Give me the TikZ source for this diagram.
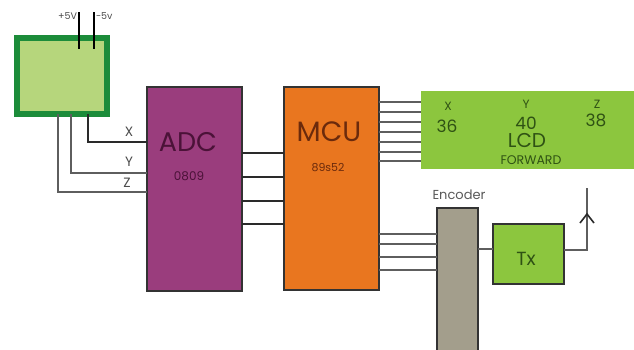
\documentclass[tikz,border=0pt]{standalone}
\usepackage{fontspec}
\usetikzlibrary{calc}
\setmainfont{Poppins}
\definecolor{sensdark}{HTML}{1C8C3A}
\definecolor{senslight}{HTML}{B6D67C}
\definecolor{adcfill}{HTML}{9A3D7D}
\definecolor{adctext}{HTML}{4B1238}
\definecolor{mcufill}{HTML}{E9761F}
\definecolor{mcutext}{HTML}{6B2A0C}
\definecolor{lcdfill}{HTML}{8CC63E}
\definecolor{lcdtext}{HTML}{2F5214}
\definecolor{encfill}{HTML}{A39E8C}
\definecolor{wiredark}{HTML}{2A2A2A}
\definecolor{wiregray}{HTML}{5E5E5E}
\begin{document}
\begin{tikzpicture}[x=1pt,y=-1pt,
  blk/.style={rectangle, draw=black!80, line width=1.3pt, inner sep=0pt, outer sep=0pt},
  wire/.style={draw=wiredark, line width=1.4pt},
  gwire/.style={draw=wiregray, line width=1.2pt},
  lbl/.style={inner sep=0pt, outer sep=0pt}]
\clip (0,0) rectangle (634,349);
\fill[white] (0,0) rectangle (634,349);

% blocks
\node[rectangle, draw=sensdark, line width=6.5pt, fill=senslight, minimum width=90pt, minimum height=76pt, inner sep=0pt, outer sep=0pt] (sens) at (62,76) {};
\node[blk, fill=adcfill, minimum width=95pt, minimum height=204pt] (adc) at (194.5,189) {};
\node[blk, fill=mcufill, minimum width=95pt, minimum height=203pt] (mcu) at (331.5,188.5) {};
\node[rectangle, fill=lcdfill, minimum width=219pt, minimum height=78pt, inner sep=0pt, outer sep=0pt] (lcd) at (530.5,130) {};
\node[blk, fill=encfill, minimum width=41pt, minimum height=152pt] (enc) at (457.5,284) {};
\node[blk, fill=lcdfill, minimum width=71pt, minimum height=60pt] (tx) at (528.5,254) {};

% power lines
\coordinate (p1) at (79,12);
\coordinate (p2) at (94,12);
\draw[draw=black, line width=2pt] (p1) -- (sens.north -| p1) -- ++(0,11);
\draw[draw=black, line width=2pt] (p2) -- (sens.north -| p2) -- ++(0,11);
\node[lbl, anchor=east, text=black!70, font=\fontsize{9.5}{10}\selectfont] (vplus) at (77,16) {+5V};
\node[lbl, anchor=west, text=black!70, font=\fontsize{9.5}{10}\selectfont] (vminus) at (96,16) {-5v};

% sensor outputs
\draw[wire] (sens.south -| 88,0) |- (adc.west |- 0,142);
\draw[gwire] (sens.south -| 71,0) |- (adc.west |- 0,173);
\draw[gwire] (sens.south -| 58,0) |- (adc.west |- 0,192);
\node[lbl, text=black!70, font=\fontsize{13.5}{14}\selectfont] (lx) at (129,132) {X};
\node[lbl, text=black!70, font=\fontsize{13.5}{14}\selectfont] (ly) at (129,162) {Y};
\node[lbl, text=black!70, font=\fontsize{13.5}{14}\selectfont] (lz) at (127,183) {Z};

% ADC -> MCU
\foreach \yy in {153,177,201,224}
  \draw[wire] (adc.east |- 0,\yy) -- (mcu.west |- 0,\yy);

% MCU -> LCD
\foreach \yy in {102,112,122,132,142,152,161}
  \draw[gwire] (mcu.east |- 0,\yy) -- (lcd.west |- 0,\yy);

% MCU -> Encoder
\foreach \yy in {234,244,257,270}
  \draw[gwire] (mcu.east |- 0,\yy) -- (enc.west |- 0,\yy);

% Encoder -> Tx
\draw[gwire] (enc.east |- 0,249) -- (tx.west |- 0,249);

% Tx -> antenna
\coordinate (ant) at (587,188);
\coordinate (tip) at (587,214);
\draw[gwire] (tx.east |- 0,250) -| (ant);
\draw[draw=wiredark, line width=1.6pt] ($(tip)+(-7,9)$) -- (tip) -- ($(tip)+(7,9)$);

% texts
\node[lbl, text=adctext, font=\fontsize{27}{27}\selectfont] (tadc) at (188,142) {ADC};
\node[lbl, text=adctext, font=\fontsize{12}{12}\selectfont] (tadc2) at (189,176) {0809};
\node[lbl, text=mcutext, font=\fontsize{28}{28}\selectfont] (tmcu) at (329,132) {MCU};
\node[lbl, text=mcutext, font=\fontsize{11}{11}\selectfont] (tmcu2) at (328,168) {89s52};
\node[lbl, text=lcdtext, font=\fontsize{12}{12}\selectfont] (lcdx) at (448,106) {X};
\node[lbl, text=lcdtext, font=\fontsize{17}{17}\selectfont] (lcdx2) at (447,126) {36};
\node[lbl, text=lcdtext, font=\fontsize{12}{12}\selectfont] (lcdy) at (526,104) {Y};
\node[lbl, text=lcdtext, font=\fontsize{17}{17}\selectfont] (lcdy2) at (526,123) {40};
\node[lbl, text=lcdtext, font=\fontsize{20}{20}\selectfont] (lcdt) at (527,140) {LCD};
\node[lbl, text=lcdtext, font=\fontsize{12.5}{13}\selectfont] (lcdf) at (531,160) {FORWARD};
\node[lbl, text=lcdtext, font=\fontsize{12}{12}\selectfont] (lcdz) at (597,104) {Z};
\node[lbl, text=lcdtext, font=\fontsize{17}{17}\selectfont] (lcdz2) at (596,120) {38};
\node[lbl, text=black!65, font=\fontsize{13}{13}\selectfont] (tenc) at (459,195) {Encoder};
\node[lbl, text=lcdtext, font=\fontsize{19}{19}\selectfont] (ttx) at (526,259) {Tx};
\end{tikzpicture}
\end{document}
